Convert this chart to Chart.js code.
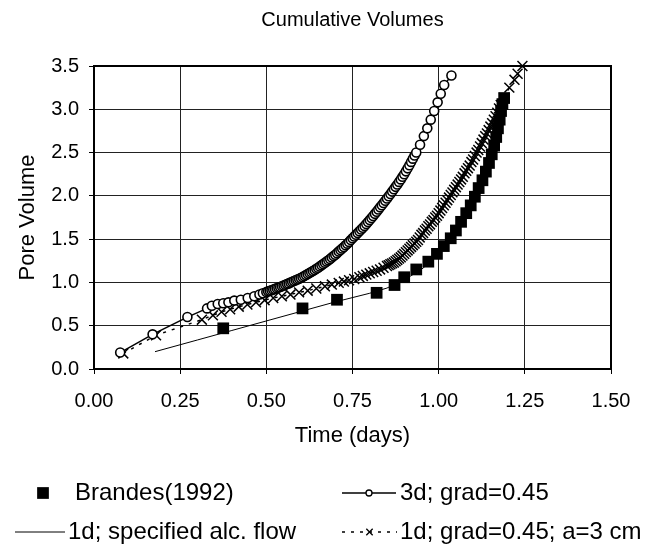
<!DOCTYPE html>
<html>
<head>
<meta charset="utf-8">
<script src="https://cdn.jsdelivr.net/npm/chart.js@4.4.0/dist/chart.umd.min.js"></script>
<style>
  html, body { margin: 0; padding: 0; background: #fff; }
  #wrap { width: 660px; height: 545px; }
</style>
</head>
<body>
<div id="wrap"><canvas id="cumChart" width="660" height="545"></canvas></div>
<script>
const chartTitle = "Cumulative Volumes";
const xTickLabels = ["0.00", "0.25", "0.50", "0.75", "1.00", "1.25", "1.50"];
const yTickLabels = ["0.0", "0.5", "1.0", "1.5", "2.0", "2.5", "3.0", "3.5"];

const seriesNames = ["Brandes(1992)", "3d; grad=0.45", "1d; specified alc. flow", "1d; grad=0.45; a=3 cm"];

// Brandes (1992) measured points
const brandesX = [0.375, 0.605, 0.705, 0.82, 0.872, 0.90, 0.935, 0.97, 0.995, 1.015, 1.035, 1.05, 1.065, 1.08,
  1.093, 1.105, 1.116, 1.127, 1.137, 1.146, 1.154, 1.161, 1.167, 1.172, 1.177, 1.181, 1.185, 1.19];
const brandesY = [0.47, 0.70, 0.80, 0.88, 0.97, 1.06, 1.15, 1.24, 1.33, 1.42, 1.51, 1.60, 1.70, 1.80,
  1.89, 1.99, 2.09, 2.18, 2.28, 2.38, 2.48, 2.58, 2.68, 2.78, 2.88, 2.98, 3.06, 3.13];

// 3d; grad=0.45
const grad3dX = [0.076, 0.170, 0.271, 0.328, 0.342, 0.359, 0.375, 0.390, 0.407, 0.426, 0.446, 0.465, 0.480, 0.490,
  0.500, 0.505, 0.510, 0.515, 0.520, 0.525, 0.530, 0.535, 0.540, 0.545, 0.550, 0.555, 0.560, 0.565, 0.570,
  0.575, 0.580, 0.585, 0.590, 0.595, 0.600, 0.605, 0.610, 0.615, 0.620, 0.625, 0.630, 0.635, 0.640, 0.645,
  0.650, 0.655, 0.660, 0.665, 0.670, 0.675, 0.680, 0.685, 0.690, 0.695, 0.700, 0.705, 0.710, 0.715, 0.720,
  0.725, 0.730, 0.735, 0.740, 0.745, 0.750, 0.755, 0.760, 0.765, 0.770, 0.775, 0.780, 0.785, 0.790, 0.795,
  0.800, 0.805, 0.810, 0.815, 0.820, 0.825, 0.830, 0.835, 0.840, 0.845, 0.850, 0.855, 0.860, 0.865, 0.870,
  0.875, 0.880, 0.885, 0.890, 0.895, 0.900, 0.905, 0.910, 0.915, 0.920, 0.925, 0.930, 0.935,
  0.946, 0.957, 0.967, 0.977, 0.987, 0.997, 1.006, 1.016, 1.037];
const grad3dY = [0.19, 0.40, 0.60, 0.70, 0.73, 0.75, 0.76, 0.77, 0.79, 0.80, 0.82, 0.84, 0.86, 0.875,
  0.890, 0.897, 0.903, 0.910, 0.917, 0.925, 0.932, 0.940, 0.948, 0.956, 0.965, 0.973, 0.981, 0.989, 0.998,
  1.007, 1.016, 1.025, 1.034, 1.043, 1.052, 1.063, 1.074, 1.085, 1.096, 1.108, 1.120, 1.132, 1.144, 1.157,
  1.170, 1.184, 1.198, 1.212, 1.227, 1.242, 1.257, 1.272, 1.288, 1.304, 1.320, 1.338, 1.356, 1.374, 1.392,
  1.410, 1.429, 1.448, 1.468, 1.489, 1.510, 1.530, 1.550, 1.570, 1.590, 1.611, 1.632, 1.653, 1.675, 1.697,
  1.720, 1.744, 1.768, 1.792, 1.817, 1.842, 1.867, 1.892, 1.918, 1.944, 1.970, 1.996, 2.022, 2.049, 2.076,
  2.104, 2.132, 2.161, 2.190, 2.220, 2.250, 2.283, 2.318, 2.354, 2.392, 2.430, 2.467, 2.500,
  2.59, 2.69, 2.78, 2.88, 2.98, 3.08, 3.18, 3.28, 3.39];

// 1d; specified alc. flow
const flowX = [0.177, 0.30, 0.40, 0.50, 0.60, 0.70, 0.80, 0.85, 0.90, 0.95, 1.00, 1.05, 1.10, 1.15, 1.19];
const flowY = [0.20, 0.335, 0.445, 0.555, 0.665, 0.775, 0.875, 0.935, 1.03, 1.15, 1.32, 1.56, 1.93, 2.45, 3.12];

// 1d; grad=0.45; a=3 cm
const gradA3X = [0.085, 0.180, 0.313, 0.345, 0.370, 0.395, 0.420, 0.445, 0.470, 0.495, 0.520, 0.545, 0.570,
  0.595, 0.620, 0.645, 0.670, 0.690, 0.710, 0.725, 0.740, 0.755, 0.770, 0.780, 0.790, 0.800, 0.810, 0.820,
  0.830, 0.840, 0.850, 0.855, 0.860, 0.865, 0.870, 0.875, 0.880, 0.885, 0.890, 0.895, 0.900, 0.905, 0.910,
  0.915, 0.920, 0.925, 0.930, 0.935, 0.940, 0.945, 0.950, 0.955, 0.960, 0.965, 0.970, 0.975, 0.980, 0.985,
  0.990, 0.995, 1.000, 1.005, 1.010, 1.015, 1.020, 1.025, 1.030, 1.035, 1.040, 1.045, 1.050, 1.055, 1.060,
  1.065, 1.070, 1.075, 1.080, 1.085, 1.090, 1.095, 1.100, 1.105, 1.110, 1.115, 1.120, 1.125, 1.130, 1.135,
  1.140, 1.145, 1.150, 1.155, 1.160, 1.165, 1.170, 1.175, 1.180, 1.190, 1.205, 1.220, 1.229, 1.243];
const gradA3Y = [0.18, 0.39, 0.57, 0.62, 0.66, 0.69, 0.72, 0.745, 0.77, 0.795, 0.82, 0.84, 0.86,
  0.885, 0.905, 0.93, 0.955, 0.975, 0.995, 1.01, 1.025, 1.04, 1.06, 1.075, 1.09, 1.105, 1.12, 1.135,
  1.15, 1.17, 1.19, 1.20, 1.21, 1.22, 1.23, 1.245, 1.26, 1.275, 1.29, 1.31, 1.33, 1.35, 1.37,
  1.39, 1.41, 1.43, 1.45, 1.47, 1.49, 1.52, 1.55, 1.57, 1.60, 1.62, 1.65, 1.67, 1.70, 1.72,
  1.75, 1.77, 1.80, 1.83, 1.86, 1.89, 1.92, 1.95, 1.98, 2.01, 2.04, 2.07, 2.10, 2.13, 2.16,
  2.19, 2.22, 2.26, 2.29, 2.32, 2.35, 2.39, 2.42, 2.46, 2.50, 2.53, 2.57, 2.61, 2.65, 2.69,
  2.72, 2.76, 2.80, 2.84, 2.88, 2.92, 2.96, 3.01, 3.05, 3.13, 3.25, 3.34, 3.41, 3.50];

const pts = (xs, ys) => xs.map((x, i) => ({ x: x, y: ys[i] }));

const FONT = "'Liberation Sans', Arial, sans-serif";

const frameBox = {
  id: "frameBox",
  beforeDatasetsDraw(chart) {
    const { ctx, chartArea: a } = chart;
    ctx.save();
    ctx.strokeStyle = "#000";
    ctx.lineWidth = 2;
    ctx.strokeRect(a.left, a.top, a.right - a.left, a.bottom - a.top);
    ctx.restore();
  },
};

// title centred over the plot area, not the whole canvas
const plotTitle = {
  id: "plotTitle",
  afterDraw(chart) {
    const { ctx, chartArea: a } = chart;
    ctx.save();
    ctx.fillStyle = "#000";
    ctx.font = "20px " + FONT;
    ctx.textAlign = "center";
    ctx.textBaseline = "middle";
    ctx.fillText(chartTitle, (a.left + a.right) / 2, 20);
    ctx.restore();
  },
};

// legend drawn by hand: Excel-style 2x2 grid under the plot
const legendBox = {
  id: "legendBox",
  afterDraw(chart) {
    const ctx = chart.ctx;
    const ds = chart.data.datasets;
    const rows = [
      { i: 0, x1: 35, x2: 51, tx: 75, y: 493, r: 8.3 },
      { i: 1, x1: 342, x2: 396, tx: 400, y: 493, r: 3 },
      { i: 2, x1: 15, x2: 65, tx: 68, y: 532, r: 0 },
      { i: 3, x1: 342, x2: 397, tx: 400, y: 532, r: 4.5 },
    ];
    ctx.save();
    rows.forEach((r) => {
      const d = ds[r.i];
      if (d.showLine) {
        ctx.beginPath();
        ctx.strokeStyle = "#000";
        ctx.lineWidth = d.borderWidth;
        ctx.setLineDash(d.borderDash || []);
        ctx.moveTo(r.x1, r.y);
        ctx.lineTo(r.x2, r.y);
        ctx.stroke();
        ctx.setLineDash([]);
      }
      if (r.r > 0) {
        ctx.fillStyle = d.pointBackgroundColor;
        ctx.strokeStyle = "#000";
        ctx.lineWidth = 1.3;
        Chart.helpers.drawPoint(ctx, {
          pointStyle: d.pointStyle,
          radius: r.r,
          borderWidth: r.i === 0 ? 0 : 1.3,
          rotation: 0,
        }, (r.x1 + r.x2) / 2, r.y);
      }
      ctx.fillStyle = "#000";
      ctx.font = "24px " + FONT;
      ctx.textAlign = "left";
      ctx.textBaseline = "middle";
      ctx.fillText(seriesNames[r.i], r.tx, r.y);
    });
    ctx.restore();
  },
};

const config = {
  type: "scatter",
  data: {
    datasets: [
      {
        label: seriesNames[0],
        data: pts(brandesX, brandesY),
        showLine: false,
        pointStyle: "rect",
        pointRadius: 8.3,
        pointBackgroundColor: "#000",
        pointBorderColor: "#000",
        pointBorderWidth: 0,
        borderWidth: 0,
        clip: false,
      },
      {
        label: seriesNames[1],
        data: pts(grad3dX, grad3dY),
        showLine: true,
        borderColor: "#000",
        borderWidth: 1.5,
        pointStyle: "circle",
        pointRadius: 4.5,
        pointBackgroundColor: "#fff",
        pointBorderColor: "#000",
        pointBorderWidth: 1.6,
        clip: false,
      },
      {
        label: seriesNames[2],
        data: pts(flowX, flowY),
        showLine: true,
        borderColor: "#000",
        borderWidth: 1,
        pointRadius: 0,
        pointBackgroundColor: "#000",
        clip: false,
      },
      {
        label: seriesNames[3],
        data: pts(gradA3X, gradA3Y),
        showLine: true,
        borderColor: "#000",
        borderWidth: 1.5,
        borderDash: [3, 6],
        pointStyle: "crossRot",
        pointRadius: 7,
        pointBackgroundColor: "#000",
        pointBorderColor: "#000",
        pointBorderWidth: 1.5,
        clip: false,
      },
    ],
  },
  options: {
    responsive: false,
    animation: false,
    layout: { padding: { top: 66, left: 0, right: 49, bottom: 0 } },
    plugins: {
      legend: { display: false },
      tooltip: { enabled: false },
      title: { display: false },
    },
    scales: {
      x: {
        type: "linear",
        min: 0,
        max: 1.5,
        ticks: {
          stepSize: 0.25,
          color: "#000",
          padding: 15,
          font: { family: FONT, size: 20 },
          callback: (v, i) => xTickLabels[i],
        },
        grid: { color: "#222", lineWidth: 1, tickLength: 5, tickColor: "#000" },
        border: { display: false },
        title: {
          display: true,
          text: "Time (days)",
          color: "#000",
          font: { family: FONT, size: 22 },
          padding: { top: 0, bottom: 96 },
        },
        afterFit: (s) => { s.height = 176; },
      },
      y: {
        type: "linear",
        min: 0,
        max: 3.5,
        ticks: {
          stepSize: 0.5,
          color: "#000",
          padding: 10,
          font: { family: FONT, size: 20 },
          callback: (v, i) => yTickLabels[i],
        },
        grid: { color: "#222", lineWidth: 1, tickLength: 5, tickColor: "#000" },
        border: { display: false },
        title: {
          display: true,
          text: "Pore Volume",
          color: "#000",
          font: { family: FONT, size: 22 },
          padding: { top: 15, bottom: 0 },
        },
        afterFit: (s) => { s.width = 94; },
      },
    },
  },
  plugins: [frameBox, plotTitle, legendBox],
};

new Chart(document.getElementById("cumChart").getContext("2d"), config);
</script>
</body>
</html>
